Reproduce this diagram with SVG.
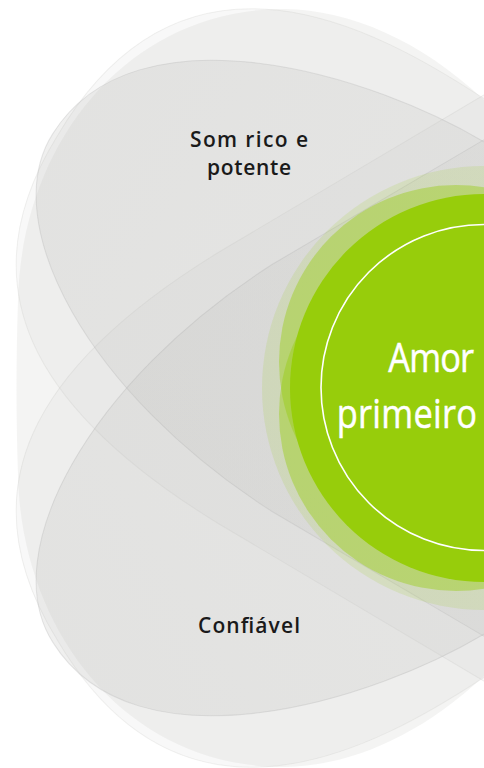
<svg xmlns="http://www.w3.org/2000/svg" width="484" height="768" viewBox="0 0 484 768">
<defs>
<style>
.outer{fill:#C8C8C5;fill-opacity:0.2}
.halo{fill:#C8C8C5;fill-opacity:0.12;stroke:#BDBDBA;stroke-opacity:0.2;stroke-width:1}
.petal{fill:url(#pg);fill-opacity:0.22;stroke:#B0B0AE;stroke-opacity:0.3;stroke-width:1}
.lbl{font-family:"Open Sans","Noto Sans","Liberation Sans",sans-serif;font-weight:600;font-size:21px;fill:#1A1A1A;text-anchor:middle}
.big{font-family:"Open Sans","Noto Sans","Liberation Sans",sans-serif;font-weight:400;font-size:41px;fill:#FFFFFF;stroke:#FFFFFF;stroke-width:0.5;text-anchor:end}
.g{fill:#97CD0B}
</style>
<linearGradient id="pg" x1="0" y1="0" x2="1" y2="0">
<stop offset="0" stop-color="#B8B8B5"/>
<stop offset="0.5" stop-color="#C6C6C3"/>
<stop offset="1" stop-color="#D6D6D3"/>
</linearGradient>
<path id="petalShape" d="M 900,-200 L 240,-210 C 100,-212 -140,-150 -143,5 C -146,110 20,210 240,216 L 900,210 Z"/>
<path id="haloShape" d="M 900,-240 L 209,-247 C 80,-252 -140,-245 -138,5 C -140,180 -20,252 200,254 L 900,250 Z"/>
</defs>
<rect width="484" height="768" fill="#FFFFFF"/>
<path class="outer" d="M 484,100 C 420,40 350,10 285,9 C 130,8 22,140 18,300 C 16,360 16,416 18,476 C 22,636 130,768 285,767 C 350,766 420,736 484,676 Z"/>
<g id="node-som-halo">
<use href="#haloShape" class="halo" transform="translate(178,203) rotate(31)"/>
</g>
<g id="node-confiavel-halo">
<use href="#haloShape" class="halo" transform="translate(178,573) rotate(-31) scale(1,-1)"/>
</g>
<g id="node-som">
<use href="#petalShape" class="petal" transform="translate(178,203) rotate(31)"/>
</g>
<g id="node-confiavel">
<use href="#petalShape" class="petal" transform="translate(178,573) rotate(-31) scale(1,-1)"/>
</g>
<g id="connectors"></g>
<g id="node-amor">
<circle class="g" cx="484" cy="388" r="222" fill-opacity="0.14"/>
<circle class="g" cx="456" cy="362" r="177" fill-opacity="0.42"/>
<circle class="g" cx="456" cy="414" r="177" fill-opacity="0.42"/>
<circle class="g" cx="484" cy="388" r="194"/>
<circle cx="484" cy="387.5" r="163" fill="none" stroke="#FFFFFF" stroke-width="1.6"/>
<text class="big" transform="translate(474,372) scale(0.84,1)" textLength="102">Amor</text>
<text class="big" transform="translate(477,428) scale(0.84,1)" textLength="167">primeiro</text>
</g>
<g id="labels">
<text class="lbl" x="249" y="147" textLength="118">Som rico e</text>
<text class="lbl" x="249" y="175" textLength="84">potente</text>
<text class="lbl" x="249" y="633" textLength="102">Confiável</text>
</g>
</svg>
